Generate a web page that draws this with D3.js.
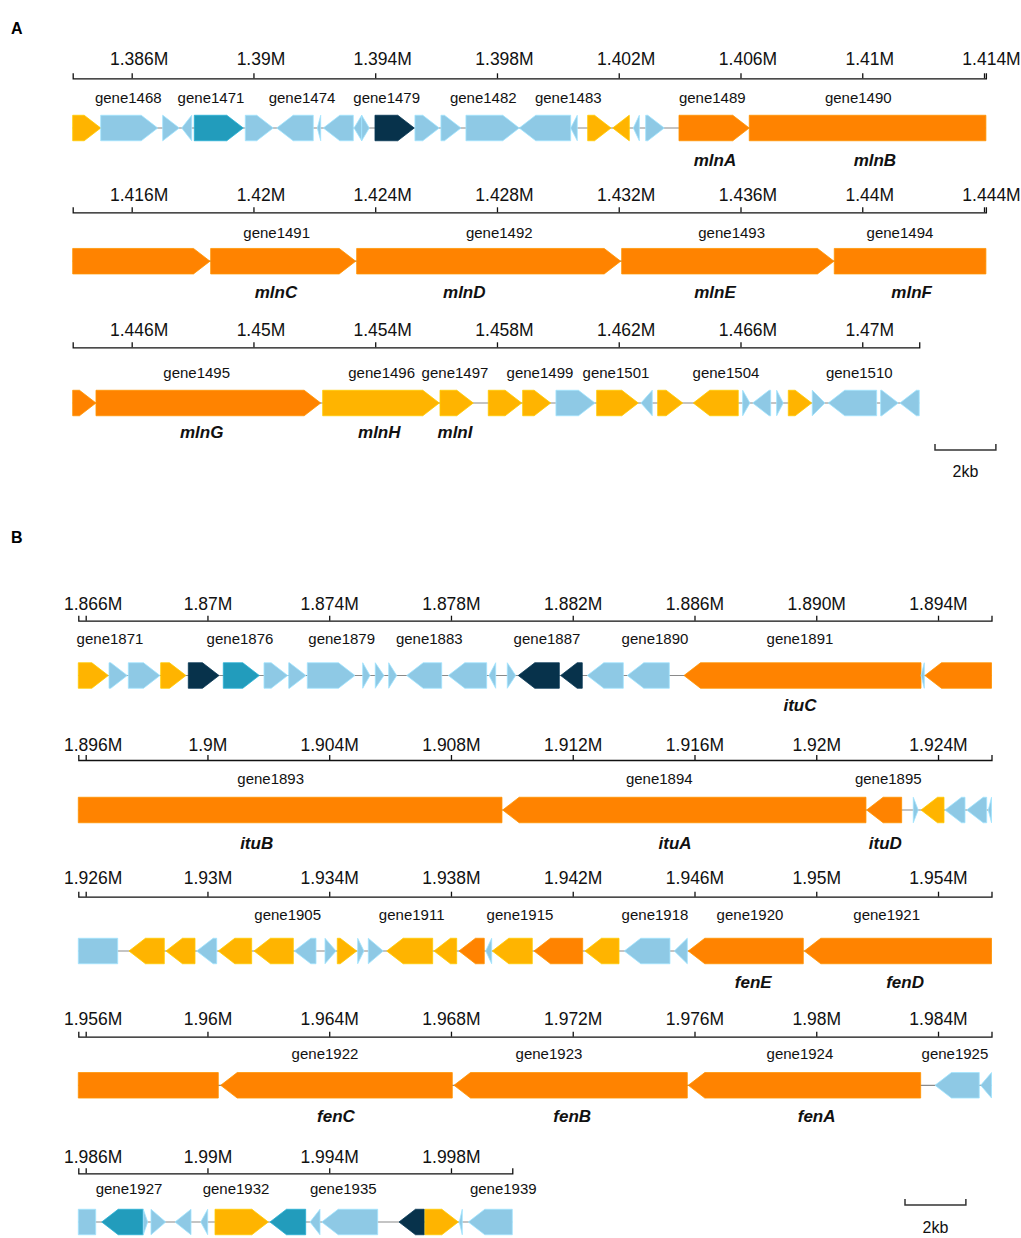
<!DOCTYPE html>
<html>
<head>
<meta charset="utf-8">
<script src="https://cdn.jsdelivr.net/npm/d3@7"></script>
<style>
  body { margin: 0; background: #fff; }
  text { font-family: Arial, "Liberation Sans", sans-serif; }
</style>
</head>
<body>
<div id="chart"></div>
<script>
// ---- data (bp coordinates) ----
// gene: [start, end, strand, class]  Y=yellow L=light blue T=teal N=navy O=orange
const genesA = [
  [1384062,1384982,1,"Y"],[1384982,1386855,1,"L"],[1387018,1387563,1,"L"],[1387643,1387971,-1,"L"],
  [1388056,1389666,1,"T"],[1389732,1390651,1,"L"],[1390763,1391965,-1,"L"],[1392097,1392209,-1,"L"],
  [1392294,1393280,-1,"L"],[1393303,1393556,-1,"L"],[1393556,1393806,1,"L"],[1393992,1395283,1,"N"],
  [1395306,1396104,1,"L"],[1396160,1396817,1,"L"],[1396981,1398732,1,"L"],[1398732,1400421,-1,"L"],
  [1400421,1400638,-1,"L"],[1400980,1401746,1,"Y"],[1401802,1402347,-1,"Y"],[1402478,1402676,-1,"L"],
  [1402885,1403496,1,"L"],[1403979,1406288,1,"O"],[1406288,1418572,1,"O"],[1418595,1423359,1,"O"],
  [1423391,1432064,1,"O"],[1432097,1439071,1,"O"],[1439081,1444827,1,"O"],[1444827,1452209,1,"O"],
  [1452274,1456105,1,"Y"],[1456128,1457222,1,"Y"],[1457714,1458811,1,"Y"],[1458844,1459764,1,"Y"],
  [1459938,1461219,1,"L"],[1461275,1462642,1,"Y"],[1462730,1463101,-1,"L"],[1463279,1464100,1,"Y"],
  [1464449,1465927,-1,"Y"],[1466071,1466311,1,"L"],[1466400,1466991,-1,"L"],[1467188,1467405,1,"L"],
  [1467570,1468339,1,"Y"],[1468358,1468775,1,"L"],[1468883,1470473,-1,"L"],[1470604,1471183,1,"L"],
  [1471238,1471872,-1,"L"]
];
const labelsA = [
  [1385888,"gene1468"],[1388605,"gene1471"],[1391595,"gene1474"],[1394377,"gene1479"],
  [1397550,"gene1482"],[1400342,"gene1483"],[1405073,"gene1489"],[1409869,"gene1490"],
  [1420763,"gene1491"],[1428076,"gene1492"],[1435710,"gene1493"],[1441239,"gene1494"],
  [1448135,"gene1495"],[1454212,"gene1496"],[1456621,"gene1497"],[1459412,"gene1499"],
  [1461909,"gene1501"],[1465523,"gene1504"],[1469902,"gene1510"]
];
const namesA = [
  [1405161,"mlnA"],[1410415,"mlnB"],[1420740,"mlnC"],[1426926,"mlnD"],[1435161,"mlnE"],
  [1441622,"mlnF"],[1448300,"mlnG"],[1454134,"mlnH"],[1456621,"mlnI"]
];
const rowStartsA = [1384062, 1414062, 1444062];
const rowEndsA = [1414062, 1444062, 1471872];
const ticksA = [
  [1386000,1390000,1394000,1398000,1402000,1406000,1410000,1414000],
  [1416000,1420000,1424000,1428000,1432000,1436000,1440000,1444000],
  [1446000,1450000,1454000,1458000,1462000,1466000,1470000]
];
const tickLabelsA = [
  ["1.386M","1.39M","1.394M","1.398M","1.402M","1.406M","1.41M","1.414M"],
  ["1.416M","1.42M","1.424M","1.428M","1.432M","1.436M","1.44M","1.444M"],
  ["1.446M","1.45M","1.454M","1.458M","1.462M","1.466M","1.47M"]
];

const genesB = [
  [1865757,1866743,1,"Y"],[1866766,1867367,1,"L"],[1867400,1868441,1,"L"],[1868464,1869295,1,"Y"],
  [1869371,1870379,1,"N"],[1870520,1871703,1,"T"],[1871857,1872636,1,"L"],[1872669,1873237,1,"L"],
  [1873280,1874847,1,"L"],[1875100,1875340,1,"L"],[1875513,1875799,1,"L"],[1875954,1876217,1,"L"],
  [1876545,1877695,-1,"L"],[1877912,1879173,-1,"L"],[1879249,1879469,-1,"L"],[1879850,1880125,1,"L"],
  [1880211,1881558,-1,"N"],[1881604,1882313,-1,"N"],[1882478,1883661,-1,"L"],[1883792,1885172,-1,"L"],
  [1885655,1893441,-1,"O"],[1893441,1893549,-1,"L"],[1893570,1909675,-1,"O"],[1909698,1921633,-1,"O"],
  [1921656,1922806,-1,"O"],[1923187,1923351,1,"L"],[1923442,1924197,-1,"Y"],[1924230,1924887,-1,"L"],
  [1924942,1925599,-1,"L"],[1925651,1927051,-1,"L"],[1927422,1928582,-1,"Y"],[1928638,1929591,-1,"Y"],
  [1929646,1930303,-1,"L"],[1930356,1931453,-1,"Y"],[1931529,1932820,-1,"Y"],[1932853,1933566,-1,"L"],
  [1933862,1934224,1,"L"],[1934265,1934903,1,"Y"],[1934935,1935142,1,"L"],[1935284,1935776,1,"L"],
  [1935888,1937399,-1,"Y"],[1937442,1938188,-1,"Y"],[1938263,1939094,-1,"O"],[1939140,1939337,-1,"L"],
  [1939357,1940671,-1,"Y"],[1940727,1942327,-1,"O"],[1942403,1943520,-1,"Y"],[1943693,1945194,-1,"L"],
  [1945336,1945763,-1,"L"],[1945796,1949574,-1,"O"],[1949607,1960356,-1,"O"],[1960435,1968043,-1,"O"],
  [1968099,1975763,-1,"O"],[1975796,1983430,-1,"O"],[1983900,1985355,-1,"L"],[1985401,1986329,-1,"L"],
  [1986526,1987892,-1,"T"],[1987892,1988037,1,"L"],[1988145,1988628,1,"L"],[1988934,1989459,-1,"L"],
  [1989778,1990008,-1,"L"],[1990248,1992000,1,"Y"],[1992054,1993227,-1,"T"],[1993369,1993697,-1,"L"],
  [1993753,1995592,-1,"L"],[1996292,1997123,-1,"N"],[1997146,1998240,1,"Y"],[1998273,1998371,-1,"L"],
  [1998569,2000014,-1,"L"]
];
const labelsB = [
  [1866798,"gene1871"],[1871069,"gene1876"],[1874410,"gene1879"],[1877287,"gene1883"],
  [1881154,"gene1887"],[1884702,"gene1890"],[1889465,"gene1891"],[1902077,"gene1893"],
  [1914843,"gene1894"],[1922366,"gene1895"],[1932636,"gene1905"],[1936709,"gene1911"],
  [1940267,"gene1915"],[1944702,"gene1918"],[1947823,"gene1920"],[1952314,"gene1921"],
  [1963861,"gene1922"],[1971219,"gene1923"],[1979464,"gene1924"],[1984556,"gene1925"],
  [1987423,"gene1927"],[1990938,"gene1932"],[1994462,"gene1935"],[1999718,"gene1939"]
];
const namesB = [
  [1889465,"ituC"],[1901617,"ituB"],[1915361,"ituA"],[1922268,"ituD"],[1947931,"fenE"],
  [1952917,"fenD"],[1964223,"fenC"],[1971981,"fenB"],[1980013,"fenA"]
];
const rowStartsB = [1865757, 1895757, 1925757, 1955757, 1985757];
const rowEndsB = [1895757, 1925757, 1955757, 1985757, 2000014];
const ticksB = [
  [1866000,1870000,1874000,1878000,1882000,1886000,1890000,1894000],
  [1896000,1900000,1904000,1908000,1912000,1916000,1920000,1924000],
  [1926000,1930000,1934000,1938000,1942000,1946000,1950000,1954000],
  [1956000,1960000,1964000,1968000,1972000,1976000,1980000,1984000],
  [1986000,1990000,1994000,1998000]
];
const tickLabelsB = [
  ["1.866M","1.87M","1.874M","1.878M","1.882M","1.886M","1.890M","1.894M"],
  ["1.896M","1.9M","1.904M","1.908M","1.912M","1.916M","1.92M","1.924M"],
  ["1.926M","1.93M","1.934M","1.938M","1.942M","1.946M","1.95M","1.954M"],
  ["1.956M","1.96M","1.964M","1.968M","1.972M","1.976M","1.98M","1.984M"],
  ["1.986M","1.99M","1.994M","1.998M"]
];

// ---- layout ----
const W = 1021, H = 1238;
const PX_PER_KB = 30.44;
const GENE_H = 25.5;
const HEAD = 16.5;
const COLORS = { Y: "#FFB400", L: "#8EC9E5", T: "#229CBC", N: "#07324B", O: "#FF8300" };

// y positions for each row: axis line, tick label baseline, gene label centre, gene centre, name centre
const layoutA = [
  { axis: 78.3, tick: 65.3, label: 98.3, gene: 128, name: 160 },
  { axis: 212.3, tick: 201.3, label: 233.3, gene: 261.2, name: 291.7 },
  { axis: 347.3, tick: 336.3, label: 373, gene: 403, name: 432.3 }
];
const layoutB = [
  { axis: 620.7, tick: 610.3, label: 639.3, gene: 675.5, name: 705 },
  { axis: 760, tick: 751.3, label: 779.3, gene: 810, name: 843.3 },
  { axis: 896.7, tick: 884, label: 915, gene: 951, name: 981.7 },
  { axis: 1036.7, tick: 1025.3, label: 1054.3, gene: 1085.3, name: 1116 },
  { axis: 1173.3, tick: 1163, label: 1189, gene: 1222, name: 1250 }
];

const svg = d3.select("#chart").append("svg")
  .attr("width", W)
  .attr("height", H);

function genePath(x1, x2, strand, head, yc) {
  const t = yc - GENE_H / 2, b = yc + GENE_H / 2;
  if (!head) return `M${x1},${t}H${x2}V${b}H${x1}Z`;
  const hl = Math.min(HEAD, x2 - x1);
  if (strand > 0) {
    return `M${x1},${t}L${x2 - hl},${t}L${x2},${yc}L${x2 - hl},${b}L${x1},${b}Z`;
  }
  return `M${x2},${t}L${x1 + hl},${t}L${x1},${yc}L${x1 + hl},${b}L${x2},${b}Z`;
}

function drawRow(start, end, x0, lay, genes, labels, names, ticks, tickLabels, shiftAll) {
  const x = d3.scaleLinear()
    .domain([start, end])
    .range([x0, x0 + (end - start) * PX_PER_KB / 1000]);

  const g = svg.append("g");

  // axis on top
  const ax = g.append("g")
    .attr("transform", `translate(0,${lay.axis})`)
    .call(d3.axisTop(x)
      .tickValues(ticks)
      .tickFormat((d, i) => tickLabels[i])
      .tickSize(5)
      .tickSizeOuter(5));
  ax.select(".domain").attr("stroke", "#111").attr("stroke-width", 1.3);
  ax.selectAll(".tick line").attr("stroke", "#111").attr("stroke-width", 1.3);
  ax.selectAll(".tick text")
    .attr("y", lay.tick - lay.axis)
    .attr("dy", 0)
    .attr("dx", (d, i) => (shiftAll || i === 0) ? 7 : 0)
    .attr("fill", "#111")
    .style("font-size", "17.5px")
    .style("font-family", "Arial, 'Liberation Sans', sans-serif");

  // backbone
  g.append("line")
    .attr("x1", x(start)).attr("x2", x(end))
    .attr("y1", lay.gene).attr("y2", lay.gene)
    .attr("stroke", "#8a8a8a").attr("stroke-width", 1.2);

  // genes clipped to this row
  const rowGenes = genes.filter(d => d[1] > start && d[0] < end);
  g.selectAll("path.gene")
    .data(rowGenes)
    .enter().append("path")
    .attr("class", "gene")
    .attr("d", d => {
      const s = Math.max(d[0], start), e = Math.min(d[1], end);
      const head = d[2] > 0 ? d[1] <= end : d[0] >= start;
      return genePath(x(s), x(e), d[2], head, lay.gene);
    })
    .attr("fill", d => COLORS[d[3]])
    .attr("stroke", d => d3.color(COLORS[d[3]]).brighter(0.35))
    .attr("stroke-width", 0.8);

  // gene ids above
  g.selectAll("text.glab")
    .data(labels.filter(d => d[0] >= start && d[0] < end))
    .enter().append("text")
    .attr("class", "glab")
    .attr("x", d => x(d[0]))
    .attr("y", lay.label + 5)
    .attr("text-anchor", "middle")
    .attr("fill", "#111")
    .style("font-size", "15px")
    .text(d => d[1]);

  // gene names below
  g.selectAll("text.gname")
    .data(names.filter(d => d[0] >= start && d[0] < end))
    .enter().append("text")
    .attr("class", "gname")
    .attr("x", d => x(d[0]))
    .attr("y", lay.name + 6)
    .attr("text-anchor", "middle")
    .attr("fill", "#111")
    .style("font-size", "17px")
    .style("font-weight", "bold")
    .style("font-style", "italic")
    .text(d => d[1]);

  return x;
}

let lastA;
rowStartsA.forEach((s, i) => {
  lastA = drawRow(s, rowEndsA[i], 72.7, layoutA[i], genesA, labelsA, namesA, ticksA[i], tickLabelsA[i], true);
});
let lastB;
rowStartsB.forEach((s, i) => {
  lastB = drawRow(s, rowEndsB[i], 78.3, layoutB[i], genesB, labelsB, namesB, ticksB[i], tickLabelsB[i], false);
});

// scale bars (2 kb)
function scaleBar(x, x1, y, ty) {
  const w = x(x.domain()[0] + 2000) - x(x.domain()[0]);
  const g = svg.append("g").attr("stroke", "#333").attr("stroke-width", 1.5).attr("fill", "none");
  g.append("path").attr("d", `M${x1},${y - 6}V${y}H${x1 + w}V${y - 6}`);
  svg.append("text")
    .attr("x", x1 + w / 2).attr("y", ty)
    .attr("text-anchor", "middle")
    .attr("fill", "#111")
    .style("font-size", "16px")
    .text("2kb");
}
scaleBar(lastA, 935, 450, 477);
scaleBar(lastB, 905, 1205, 1233);

// panel letters
svg.append("text").attr("x", 11).attr("y", 34)
  .style("font-size", "16px").style("font-weight", "bold").text("A");
svg.append("text").attr("x", 11).attr("y", 543)
  .style("font-size", "16px").style("font-weight", "bold").text("B");
</script>
</body>
</html>
